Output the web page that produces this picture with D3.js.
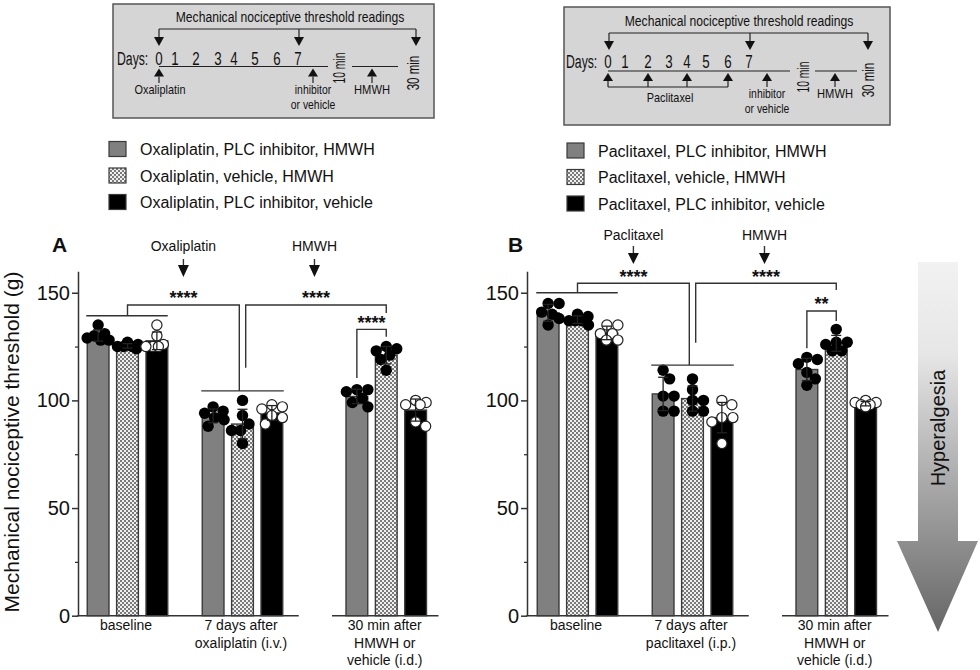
<!DOCTYPE html>
<html><head><meta charset="utf-8">
<script src="https://cdn.jsdelivr.net/npm/d3@7/dist/d3.min.js"></script>
<style>
body{margin:0;background:#fff}
svg{display:block}
text{font-family:"Liberation Sans",Arial,Helvetica,sans-serif;fill:#111}
</style>
</head><body>
<svg id="c" width="980" height="670"></svg>
<script>
// ---------------- DATA ----------------
const categoriesA = [["baseline"], ["7 days after", "oxaliplatin (i.v.)"], ["30 min after", "HMWH or", "vehicle (i.d.)"]];
const categoriesB = [["baseline"], ["7 days after", "paclitaxel (i.p.)"], ["30 min after", "HMWH or", "vehicle (i.d.)"]];
const seriesA = ["Oxaliplatin, PLC inhibitor, HMWH", "Oxaliplatin, vehicle, HMWH", "Oxaliplatin, PLC inhibitor, vehicle"];
const seriesB = ["Paclitaxel, PLC inhibitor, HMWH", "Paclitaxel, vehicle, HMWH", "Paclitaxel, PLC inhibitor, vehicle"];
const yTicks = [0, 50, 100, 150];
const yMinorTicks = [25, 75, 125];

// individual animals (g), one array per category
const oxaInhibitorHMWH = [[135, 128, 128, 129, 130, 131], [97, 95, 94, 91, 88, 92], [105, 105, 104, 101, 99, 97]];
const oxaVehicleHMWH   = [[127, 126, 125, 125, 124, 125], [100, 93, 89, 86, 86, 80], [125, 124, 123, 121, 119, 114]];
const oxaInhibitorVeh  = [[135, 130, 125, 125, 126, 125], [98, 97, 96, 92, 89, 93], [100, 99, 98, 98, 90, 88]];
const pacInhibitorHMWH = [[145, 145, 141, 140, 138, 135], [110, 114, 102, 102, 95, 95], [119, 120, 117, 113, 110, 107]];
const pacVehicleHMWH   = [[140, 139, 137, 137, 137, 135], [110, 105, 100, 100, 95, 95], [133, 127, 127, 126, 123, 123]];
const pacInhibitorVeh  = [[135, 135, 131, 131, 128, 128], [100, 98, 92, 92, 90, 80], [100, 99, 99, 98, 98, 97]];

// ---------------- SETUP ----------------
const svg = d3.select("#c");
const defs = svg.append("defs");
const pat = defs.append("pattern").attr("id", "chk").attr("width", 4).attr("height", 4).attr("patternUnits", "userSpaceOnUse");
pat.append("rect").attr("width", 4).attr("height", 4).attr("fill", "#f0f0f0");
pat.append("rect").attr("width", 2).attr("height", 2).attr("fill", "#7a7a7a");
pat.append("rect").attr("x", 2).attr("y", 2).attr("width", 2).attr("height", 2).attr("fill", "#7a7a7a");
const grad = defs.append("linearGradient").attr("id", "hg").attr("x1", 0).attr("y1", 0).attr("x2", 0).attr("y2", 1);
[[0, "#f2f2f2"], [0.25, "#e6e6e6"], [0.6, "#a9a9a9"], [1, "#666666"]].forEach(s =>
  grad.append("stop").attr("offset", s[0]).attr("stop-color", s[1]));

const barFill = ["#808080", "url(#chk)", "#000000"];
const dotFill = ["#000", "#000", "#fff"];
const INK = "#333";

const y = d3.scaleLinear().domain([0, 160]).range([615.7, 271.2]);

function swarm(vals, r, maxOff) {
  const placed = [];
  const res = new Array(vals.length);
  const minD = 2 * r * 0.95;
  vals.map((v, i) => ({ v, i, py: y(v) })).sort((a, b) => b.v - a.v).forEach(p => {
    let best = null;
    for (let k = 0; k * 0.5 <= maxOff && best === null; k++) {
      for (const c of [k * 0.5, -k * 0.5]) {
        const md = placed.length ? d3.min(placed, q => Math.hypot(q.x - c, q.y - p.py)) : 99;
        if (md >= minD) { best = c; break; }
      }
    }
    if (best === null) {
      // fall back: offset with largest clearance
      let bestScore = -1;
      for (let c = -maxOff; c <= maxOff; c += 0.5) {
        const md = d3.min(placed, q => Math.hypot(q.x - c, q.y - p.py));
        if (md > bestScore) { bestScore = md; best = c; }
      }
    }
    placed.push({ x: best, y: p.py });
    res[p.i] = best;
  });
  return res;
}

function poly(g, pts) {
  g.append("path").attr("d", d3.line()(pts)).attr("fill", "none").attr("stroke", INK).attr("stroke-width", 1.4);
}

function drawPanel(cfg) {
  const g = svg.append("g");
  const gx = d3.scaleLinear().domain([0, 1]).range([cfg.c0, cfg.c0 + 115]);
  const groupPos = [0, 1, 2.25];
  const inner = d3.scaleBand().domain(cfg.series).range([-40.25, 40.25]).paddingInner(0.26).paddingOuter(0);
  const bw = inner.bandwidth();
  const gc = i => gx(groupPos[i]);
  const bx = (i, s) => gc(i) + inner(cfg.series[s]) + bw / 2;

  // axes
  const ax = d3.axisLeft(y).tickValues(yTicks).tickSize(6).tickSizeOuter(0).tickPadding(2);
  const axg = g.append("g").attr("transform", `translate(${cfg.axisX},0)`).call(ax);
  axg.select(".domain").attr("stroke", INK).attr("stroke-width", 1.5);
  axg.selectAll(".tick line").attr("stroke", INK).attr("stroke-width", 1.5);
  axg.selectAll(".tick text").attr("font-size", 20).attr("fill", "#111").attr("font-family", '"Liberation Sans",Arial,sans-serif');
  const axm = d3.axisLeft(y).tickValues(yMinorTicks).tickSize(3).tickFormat("");
  const amg = g.append("g").attr("transform", `translate(${cfg.axisX},0)`).call(axm);
  amg.select(".domain").remove();
  amg.selectAll(".tick line").attr("stroke", INK).attr("stroke-width", 1.3);
  // broken x axis
  poly(g, [[cfg.axisX - 0.7, y(0)], [bx(1, 2) + bw / 2 + 16, y(0)]]);
  poly(g, [[bx(2, 0) - bw / 2 - 14, y(0)], [bx(2, 2) + bw / 2 + 12, y(0)]]);

  // category labels
  cfg.cats.forEach((lines, i) => {
    const t = g.append("text").attr("text-anchor", "middle").attr("font-size", 14);
    lines.forEach((l, k) => t.append("tspan").attr("x", gc(i) - 1.5).attr("y", 630 + k * 17.5).text(l));
  });

  // bars
  cfg.values.forEach((ser, s) => {
    ser.forEach((vals, i) => {
      const m = d3.mean(vals), sd = d3.deviation(vals);
      const x0 = bx(i, s) - bw / 2;
      g.append("rect").attr("x", x0).attr("y", y(m)).attr("width", bw).attr("height", y(0) - y(m))
        .attr("fill", barFill[s]).attr("stroke", "#3a3a3a").attr("stroke-width", 1.4);
      const offs = swarm(vals, 5.6, 11);
      vals.forEach((v, k) => {
        g.append("circle").attr("cx", bx(i, s) + offs[k]).attr("cy", y(v)).attr("r", s === 2 ? 5.1 : 5.7)
          .attr("fill", dotFill[s]).attr("stroke", s === 2 ? "#222" : "none").attr("stroke-width", 1.2);
      });
      const cx = bx(i, s);
      const ec = "#222";
      g.append("path").attr("d", d3.line()([[cx, y(m - sd)], [cx, y(m + sd)]])).attr("stroke", ec).attr("stroke-width", 1.3);
      [m + sd, m - sd].forEach(v => g.append("path").attr("d", d3.line()([[cx - 5, y(v)], [cx + 5, y(v)]])).attr("stroke", ec).attr("stroke-width", 1.3));
    });
  });

  // significance brackets
  const b = cfg.br;
  poly(g, [[bx(0, 0) - bw / 2 - 1, y(b.g1)], [bx(0, 2) + bw / 2, y(b.g1)]]);
  poly(g, [[bx(1, 0) - bw / 2 - 1, y(b.g2)], [bx(1, 2) + bw / 2 + 1, y(b.g2)]]);
  poly(g, [[gc(0), y(b.g1)], [gc(0), y(b.top)], [gc(1) - 3.2, y(b.top)], [gc(1) - 3.2, y(b.g2)]]);
  poly(g, [[gc(1) + 3.2, y(b.leftEnd)], [gc(1) + 3.2, y(b.top)], [bx(2, 1), y(b.top)], [bx(2, 1), y(b.rightEnd)]]);
  poly(g, [[bx(2, 0), y(b.inL)], [bx(2, 0), y(b.inTop)], [bx(2, 1), y(b.inTop)], [bx(2, 1), y(b.inR)]]);
  const star = (x, v, s) => g.append("text").attr("x", x).attr("y", y(v) + 10).attr("text-anchor", "middle")
    .attr("font-size", 18).attr("font-weight", "bold").text(s);
  const m1 = (gc(0) + gc(1) - 3.2) / 2, m2 = (gc(1) + 3.2 + bx(2, 1)) / 2;
  star(m1, b.star, "****");
  star(m2, b.star, "****");
  star((bx(2, 0) + bx(2, 1)) / 2, b.inStar, cfg.innerStars);

  // treatment labels + arrows
  [[m1, cfg.treat], [m2 - 1.5, "HMWH"]].forEach(([x, lab]) => {
    g.append("text").attr("x", x).attr("y", cfg.labY).attr("text-anchor", "middle").attr("font-size", 14).text(lab);
    poly(g, [[x, cfg.arrY0], [x, cfg.arrY1]]);
    g.append("path").attr("d", d3.line()([[x - 5.5, cfg.arrY1], [x + 5.5, cfg.arrY1], [x, cfg.arrY2]]) + "Z").attr("fill", "#111");
  });
  g.append("text").attr("x", cfg.letterX).attr("y", 252).attr("font-size", 21).attr("font-weight", "bold").text(cfg.letter);

  // legend
  cfg.series.forEach((s, i) => {
    const ly = cfg.legY + i * 26.5;
    g.append("rect").attr("x", cfg.legX).attr("y", ly - 7.5).attr("width", 17).attr("height", 15)
      .attr("fill", barFill[i]).attr("stroke", "#3a3a3a").attr("stroke-width", 1.2);
    g.append("text").attr("x", cfg.legX + 31).attr("y", ly + 6).attr("font-size", 16).text(s);
  });
}

drawPanel({
  axisX: 78, c0: 127.5, series: seriesA, cats: categoriesA,
  values: [oxaInhibitorHMWH, oxaVehicleHMWH, oxaInhibitorVeh],
  br: { g1: 139.3, top: 144.3, g2: 104.4, leftEnd: 115.2, rightEnd: 140.6, inL: 110.4, inTop: 133, inR: 129.6, star: 149.4, inStar: 137.8 },
  innerStars: "****", treat: "Oxaliplatin", labY: 251, arrY0: 259, arrY1: 265, arrY2: 277,
  letter: "A", letterX: 52, legX: 109, legY: 149
});
drawPanel({
  axisX: 527, c0: 577.5, series: seriesB, cats: categoriesB,
  values: [pacInhibitorHMWH, pacVehicleHMWH, pacInhibitorVeh],
  br: { g1: 150, top: 154.4, g2: 116.4, leftEnd: 126.8, rightEnd: 151.3, inL: 124.2, inTop: 141.5, inR: 136.9, star: 159.3, inStar: 146.6 },
  innerStars: "**", treat: "Paclitaxel", labY: 240, arrY0: 246, arrY1: 253, arrY2: 264,
  letter: "B", letterX: 508, legX: 567, legY: 150.5
});

// y-axis title
svg.append("text").attr("transform", "translate(19,442) rotate(-90)").attr("text-anchor", "middle")
  .attr("font-size", 21).text("Mechanical nociceptive threshold (g)");

// Hyperalgesia arrow
svg.append("path").attr("d", d3.line()([[918, 262], [958, 262], [958, 541], [978, 541], [938, 632], [897, 541], [918, 541]]) + "Z")
  .attr("fill", "url(#hg)");
svg.append("text").attr("transform", "translate(945,428) rotate(-90)").attr("text-anchor", "middle")
  .attr("font-size", 20).text("Hyperalgesia");

// ---------------- protocol diagrams ----------------
function dtext(x, yy, s, size, sx, anchor, rot) {
  const tr = rot ? `translate(${x},${yy}) rotate(-90) scale(${sx},1)` : `translate(${x},${yy}) scale(${sx},1)`;
  svg.append("text").attr("transform", tr).attr("text-anchor", anchor || "middle").attr("font-size", size)
    .attr("dy", rot ? "0.36em" : 0).text(s);
}
function dline(pts) { svg.append("path").attr("d", d3.line()(pts)).attr("fill", "none").attr("stroke", "#222").attr("stroke-width", 1.2); }
function tri(pts) { svg.append("path").attr("d", d3.line()(pts) + "Z").attr("fill", "#111"); }
function downArrow(x, y0, y1, y2) { dline([[x, y0], [x, y1]]); tri([[x - 5, y1], [x + 5, y1], [x, y2]]); }
function upArrow(x, tip, base, end) { tri([[x, tip], [x - 5, base], [x + 5, base]]); dline([[x, base], [x, end]]); }

function diagram(d) {
  svg.append("rect").attr("x", d.box[0]).attr("y", d.box[1]).attr("width", d.box[2]).attr("height", d.box[3])
    .attr("fill", "#d5d5d5").attr("stroke", "#555").attr("stroke-width", 1.5);
  dtext(d.titleX, d.titleY, "Mechanical nociceptive threshold readings", 15, 0.81);
  dline([[d.reads[0], d.brY], [d.reads[2], d.brY]]);
  d.reads.forEach(x => downArrow(x, d.brY, d.brY + 8, d.brY + 17));
  dtext(d.daysX, d.numY, "Days:", 18, 0.68, "start");
  d.dayX.forEach((x, i) => dtext(x, d.numY, String(i), 18, 0.74));
  dline([[d.dayX[0], d.lineY], [d.line1End, d.lineY]]);
  dline(d.line2.map(x => [x, d.lineY]));
  d.ups.forEach(x => upArrow(x, d.lineY + 2, d.lineY + 10, d.upEnd));
  dtext(d.inhX, d.upEnd + 11, "inhibitor", 13, 0.8);
  dtext(d.inhX, d.upEnd + 26, "or vehicle", 13, 0.8);
  upArrow(d.inhX, d.lineY + 2, d.lineY + 10, d.upEnd);
  upArrow(d.hmX, d.lineY + 2, d.lineY + 10, d.upEnd);
  dtext(d.hmX, d.upEnd + 11, "HMWH", 13, 0.86);
  dtext(d.min10[0], d.min10[1], "10 min", 16, 0.65, "middle", true);
  dtext(d.min30[0], d.min30[1], "30 min", 16, 0.72, "middle", true);
}

diagram({
  box: [113, 4, 321, 114], titleX: 290, titleY: 22, brY: 29, reads: [159, 299, 416],
  daysX: 117, numY: 65, dayX: [159, 175, 196, 218, 234, 255, 277, 298], lineY: 66.5, line1End: 328, line2: [352, 398],
  ups: [159], upEnd: 83, inhX: 313, hmX: 372, min10: [339, 68], min30: [413, 73]
});
dtext(160, 94, "Oxaliplatin", 13, 0.84);

diagram({
  box: [564, 7, 326, 118], titleX: 739, titleY: 26, brY: 33, reads: [609, 750, 868],
  daysX: 566, numY: 67.5, dayX: [608, 625, 648, 669, 687, 706, 728, 749], lineY: 71, line1End: 790, line2: [815, 857],
  ups: [608, 648, 687, 728], upEnd: 87, inhX: 767, hmX: 835, min10: [803, 77], min30: [868, 80]
});
dline([[608, 87], [728, 87]]);
dtext(670, 102, "Paclitaxel", 13, 0.84);
</script>
</body></html>
